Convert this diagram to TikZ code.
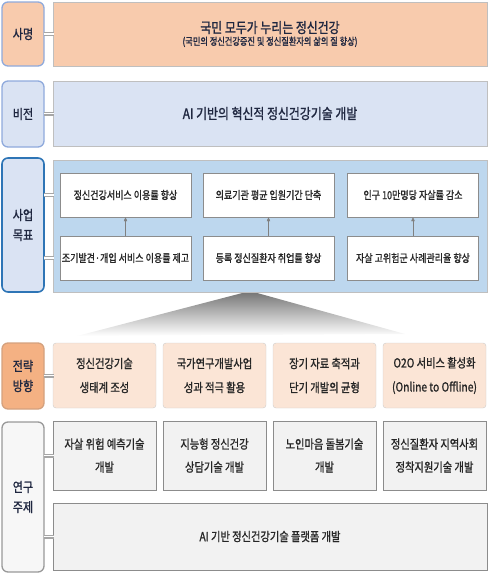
\documentclass[tikz,border=0pt]{standalone}
\usepackage{fontspec}
\setmainfont{Noto Sans CJK KR}[FakeStretch=0.82,FakeBold=1.2]
\usetikzlibrary{arrows.meta}
\definecolor{ink}{HTML}{1F2740}
\definecolor{peach}{HTML}{F8CBAD}
\definecolor{sky}{HTML}{DAE3F3}
\definecolor{skyd}{HTML}{BDD7EE}
\definecolor{frame}{HTML}{8FAADC}
\definecolor{framed}{HTML}{2E75B6}
\definecolor{orng}{HTML}{F4B183}
\definecolor{orngl}{HTML}{FBE5D6}
\tikzset{
  tag/.style={draw, rounded corners=6pt, line width=1.3pt, minimum width=42pt,
    align=center, text=ink, inner sep=0pt, font=\fontsize{13.5}{20}\selectfont},
  box/.style={draw=black!25, minimum width=434pt, align=center, text=ink, inner sep=0pt},
  cell/.style={draw=black!45, fill=white, minimum width=131pt, minimum height=44pt,
    inner sep=0pt, text=black!85, font=\fontsize{11}{13}\selectfont},
  way/.style={draw=black!20, fill=orngl, rounded corners=3pt, minimum width=103pt,
    minimum height=65pt, align=center, inner sep=0pt, text=black!85,
    font=\fontsize{12.5}{24}\selectfont},
  topic/.style={draw=black!45, fill=black!5, minimum width=103pt, align=center,
    inner sep=0pt, text=black!85, font=\fontsize{12.5}{23}\selectfont},
  link/.style={draw=black!35, double=white, double distance=1.6pt, line width=1.2pt,
    shorten <=-1pt, shorten >=-1pt},
  up/.style={draw=black!50, -{Triangle[length=4pt,width=3.5pt]}},
}

\begin{document}
\begin{tikzpicture}[x=1pt,y=-1pt]
  \useasboundingbox (0,0) rectangle (490,573);

  % mission
  \node[tag, fill=peach, draw=frame, minimum height=64pt] (Lm) at (23,34) {사명};
  \node[box, fill=peach, minimum height=64pt] (M) at (270,34)
    {\fontsize{14.5}{20}\selectfont 국민 모두가 누리는 정신건강\\
     \fontsize{10}{12}\selectfont (국민의 정신건강증진 및 정신질환자의 삶의 질 향상)};
  \draw[link] (Lm.east) -- (M.west);

  % vision
  \node[tag, fill=sky, draw=frame, minimum height=66pt] (Lv) at (23,114) {비전};
  \node[box, fill=sky, minimum height=65pt, font=\fontsize{14.5}{17}\selectfont] (V) at (270,113.5)
    {AI 기반의 혁신적 정신건강기술 개발};
  \draw[link] (Lv.east |- V.west) -- (V.west);

  % funnel
  \shade[top color=black!55, bottom color=white] (77,336) -- (250,291) -- (405,334) -- cycle;

  % goals
  \node[tag, fill=sky, draw=framed, line width=1.6pt, minimum height=134pt] (Lg) at (23,225) {사업\\목표};
  \node[box, fill=skyd, minimum height=132pt] (G) at (270,226) {};
  \foreach \x/\t [count=\i] in {125.5/정신건강서비스 이용률 향상,
                                268.5/의료기관 평균 입원기간 단축,
                                413/인구 10만명당 자살률 감소}
    \node[cell] (g\i) at (\x,195) {\t};
  \foreach \x/\t [count=\i] in {125.5/조기발견·개입 서비스 이용률 제고,
                                268.5/등록 정신질환자 취업률 향상,
                                413/자살 고위험군 사례관리율 향상}
  {
    \node[cell] (h\i) at (\x,258) {\t};
    \draw[up] (h\i) -- (g\i);
  }
  \draw[link] (Lg.east |- g1) -- (G.west |- g1);
  \draw[link] (Lg.east |- h1) -- (G.west |- h1);

  % strategy
  \node[tag, fill=orng, draw=orng!85!black!90, minimum height=66pt] (Ls) at (23,376) {전략\\방향};
  \foreach \x/\t [count=\i] in {104.5/정신건강기술\\생태계 조성,
                                214.5/국가연구개발사업\\성과 적극 활용,
                                324.5/장기 자료 축적과\\단기 개발의 균형,
                                434.5/O2O 서비스 활성화\\(Online to Offline)}
    \node[way] (s\i) at (\x,375.5) {\t};
  \draw[link] (Ls.east |- s1) -- (s1.west);

  % research topics
  \node[tag, fill=black!3, draw=black!40, minimum height=150pt] (Lr) at (23,497) {연구\\주제};
  \foreach \x/\t [count=\i] in {104.5/자살 위험 예측기술\\개발,
                                214.5/지능형 정신건강\\상담기술 개발,
                                324.5/노인마음 돌봄기술\\개발,
                                434.5/정신질환자 지역사회\\정착지원기술 개발}
    \node[topic, minimum height=69pt] (r\i) at (\x,455.5) {\t};
  \node[topic, minimum width=434pt, minimum height=67pt] (P) at (270,536.5)
    {AI 기반 정신건강기술 플랫폼 개발};
  \draw[link] (Lr.east |- r1) -- (r1.west);
  \draw[link] (Lr.east |- P) -- (P.west);

\end{tikzpicture}
\end{document}
